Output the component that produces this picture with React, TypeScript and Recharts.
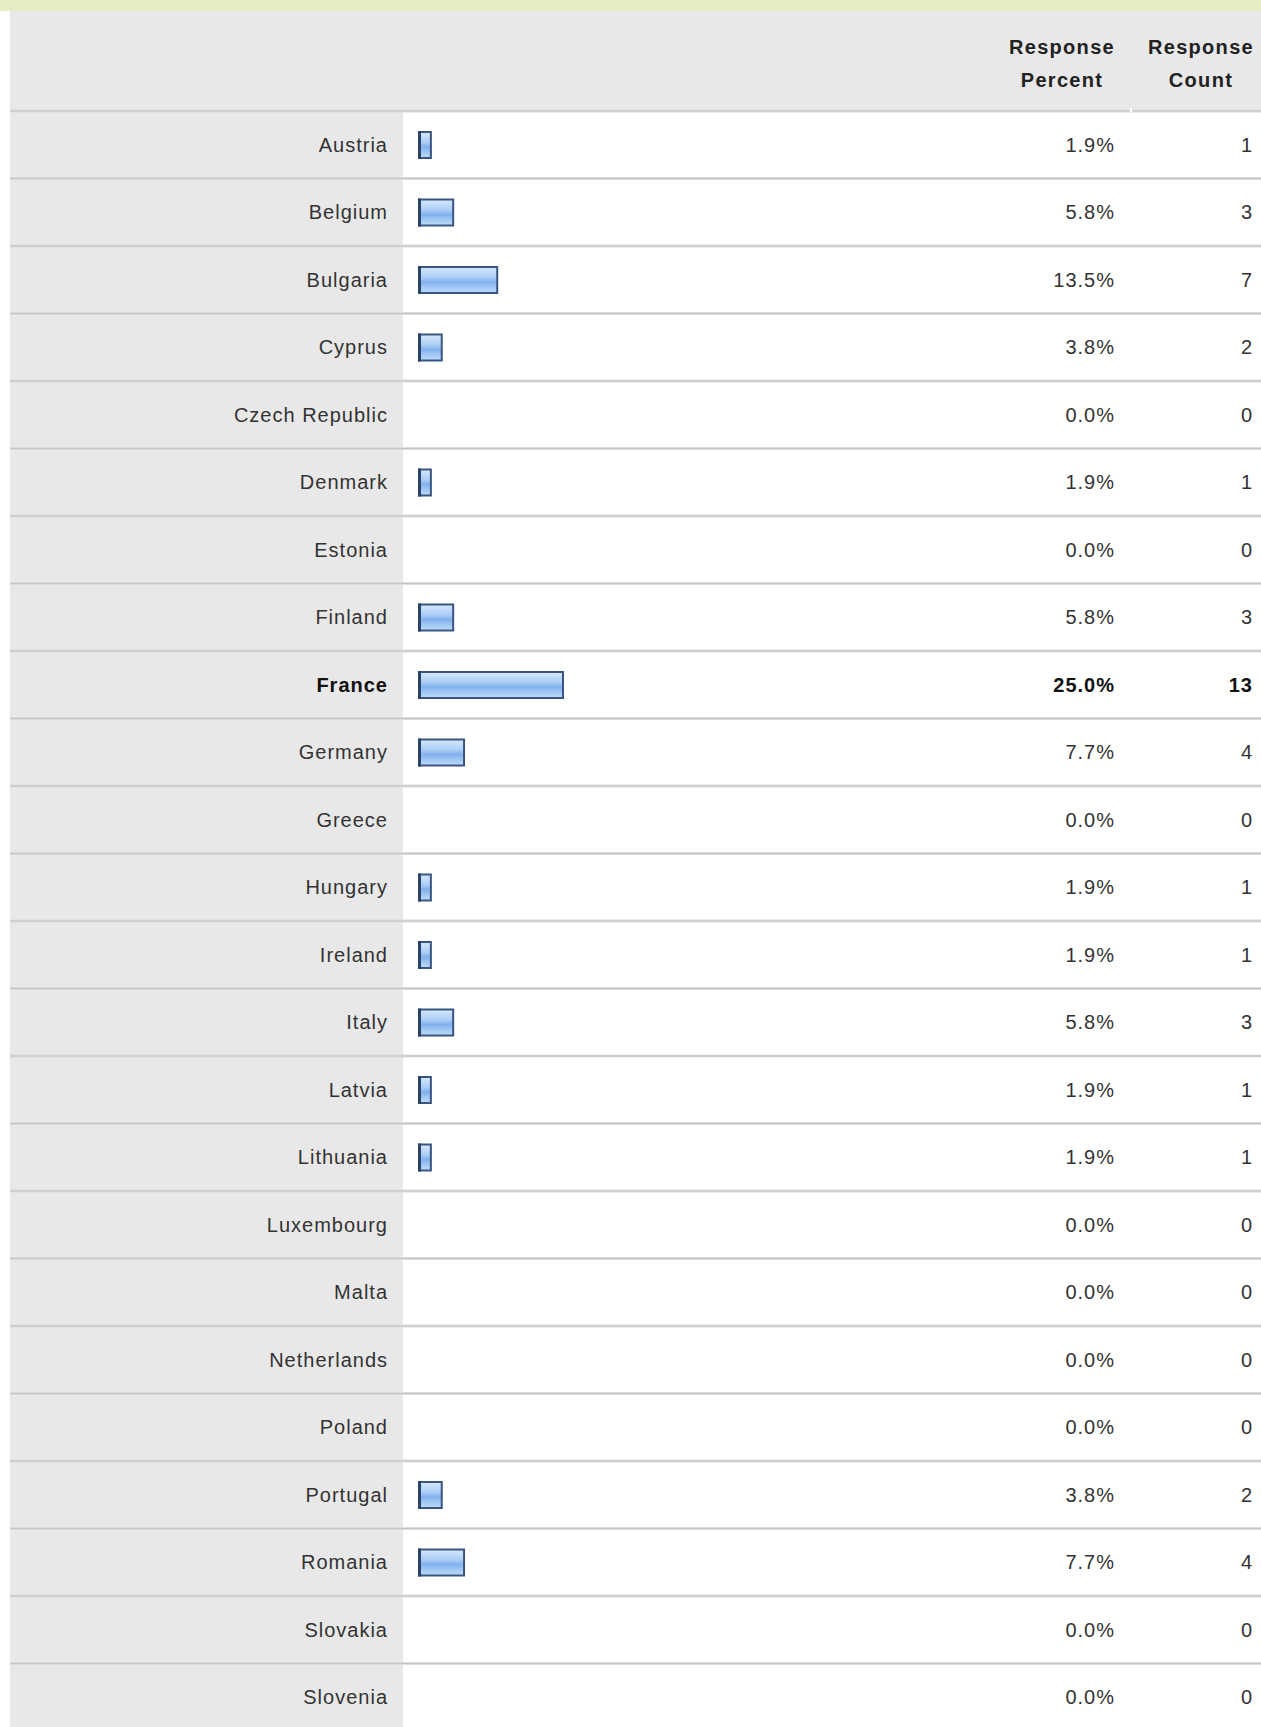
import React from 'react';
import { BarChart, Bar, XAxis, YAxis } from 'recharts';

const countries = [
  'Austria', 'Belgium', 'Bulgaria', 'Cyprus', 'Czech Republic', 'Denmark', 'Estonia', 'Finland',
  'France', 'Germany', 'Greece', 'Hungary', 'Ireland', 'Italy', 'Latvia', 'Lithuania',
  'Luxembourg', 'Malta', 'Netherlands', 'Poland', 'Portugal', 'Romania', 'Slovakia', 'Slovenia',
];
const percents = [1.9, 5.8, 13.5, 3.8, 0.0, 1.9, 0.0, 5.8, 25.0, 7.7, 0.0, 1.9, 1.9, 5.8, 1.9, 1.9, 0.0, 0.0, 0.0, 0.0, 3.8, 7.7, 0.0, 0.0];
const counts = [1, 3, 7, 2, 0, 1, 0, 3, 13, 4, 0, 1, 1, 3, 1, 1, 0, 0, 0, 0, 2, 4, 0, 0];
const headerPercent = ['Response', 'Percent'];
const headerCount = ['Response', 'Count'];

const data = countries.map((name, i) => ({ name, percent: percents[i], count: counts[i] }));
const maxCount = Math.max(...counts);

// layout
const W = 1261;
const H = 1727;
const TOP = 111;
const ROW_H = 67.5;
const LABEL_COL = 403;
const BAR_LEFT = 419;
const BAR_FULL = 572; // px for 100%
const CHART_H = 1740;
const FONT = '"Liberation Sans", Arial, Helvetica, sans-serif';

const RowTick = (props: any) => {
  const { y, payload } = props;
  const i = payload.index;
  const row = data[i];
  const bold = row.count === maxCount;
  const top = y - ROW_H / 2;
  const textProps = {
    fontFamily: FONT,
    fontSize: 20,
    letterSpacing: 1,
    fill: bold ? '#111' : '#333',
    fontWeight: bold ? 700 : 400,
    textAnchor: 'end' as const,
  };
  return (
    <g>
      <rect x={10} y={top} width={LABEL_COL - 10} height={ROW_H} fill="#e8e8e8" />
      <rect x={10} y={top - 1.5} width={W - 10} height={3} fill="#dcdcdc" />
      <rect x={10} y={top - 0.5} width={W - 10} height={1} fill="#c4c4c4" />
      <text x={388} y={y + 7} {...textProps}>{row.name}</text>
      <text x={1115} y={y + 7} {...textProps}>{row.percent.toFixed(1)}%</text>
      <text x={1253} y={y + 7} {...textProps}>{row.count}</text>
    </g>
  );
};

const BarShape = (props: any) => {
  const { x, y, width, height, index } = props;
  if (!width || width <= 0) return null;
  const id = `barGrad${index}`;
  return (
    <g>
      <defs>
        <linearGradient id={id} x1="0" y1="0" x2="0" y2="1">
          <stop offset="0%" stopColor="#d6e8fc" />
          <stop offset="40%" stopColor="#abcdf6" />
          <stop offset="58%" stopColor="#80b1ec" />
          <stop offset="75%" stopColor="#9cc5f3" />
          <stop offset="100%" stopColor="#c0dbf9" />
        </linearGradient>
      </defs>
      <rect x={x} y={y} width={width + 1} height={height} fill={`url(#${id})`} stroke="#3a5680" strokeWidth={2} />
      <rect x={x - 1} y={y - 1} width={3} height={height + 2} fill="#2a4468" />
    </g>
  );
};

const HeaderCell = ({ lines, cx }: { lines: string[]; cx: number }) => (
  <>
    {lines.map((t, k) => (
      <div
        key={k}
        style={{
          position: 'absolute',
          left: cx - 80,
          width: 160,
          top: k === 0 ? 32 : 65,
          textAlign: 'center',
          fontSize: 20,
          fontWeight: 700,
          letterSpacing: 1.3,
          color: '#222',
          lineHeight: '30px',
        }}
      >
        {t}
      </div>
    ))}
  </>
);

export default function App() {
  return (
    <div
      style={{
        position: 'absolute',
        left: 0,
        top: 0,
        width: W,
        height: H,
        overflow: 'hidden',
        background: '#ffffff',
        fontFamily: FONT,
      }}
    >
      <div style={{ position: 'absolute', left: 0, top: 0, width: W, height: 11, background: '#e6ecc3' }} />
      <div style={{ position: 'absolute', left: 10, top: 11, width: W - 10, height: TOP - 11, background: '#e8e8e8' }} />
      <HeaderCell lines={headerPercent} cx={1062} />
      <HeaderCell lines={headerCount} cx={1201} />
      <div style={{ position: 'absolute', left: 0, top: 0 }}>
        <BarChart
          width={W}
          height={CHART_H}
          data={data}
          layout="vertical"
          margin={{ top: TOP, right: W - BAR_LEFT - BAR_FULL, bottom: CHART_H - TOP - ROW_H * countries.length, left: 0 }}
          barSize={26}
        >
          <XAxis type="number" domain={[0, 100]} hide />
          <YAxis
            type="category"
            dataKey="name"
            width={BAR_LEFT}
            tickLine={false}
            axisLine={false}
            interval={0}
            tick={RowTick}
          />
          <Bar dataKey="percent" shape={BarShape} isAnimationActive={false} />
        </BarChart>
      </div>
      <div style={{ position: 'absolute', left: 1130, top: 108, width: 2, height: 4, background: '#ffffff' }} />
    </div>
  );
}
